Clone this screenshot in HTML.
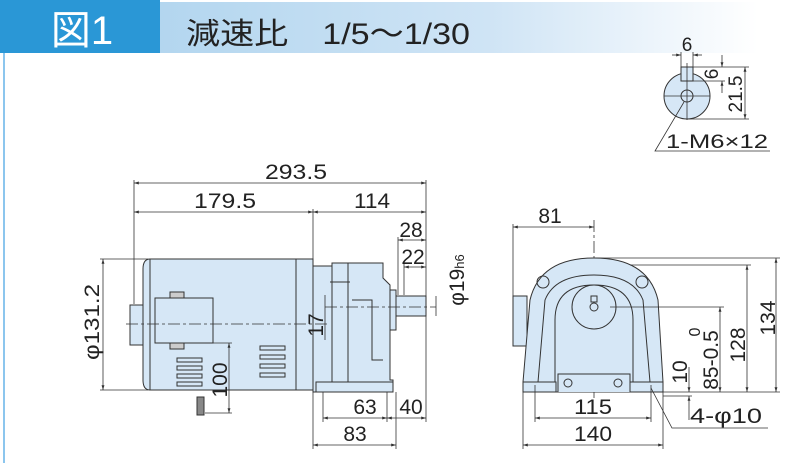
<!DOCTYPE html>
<html><head><meta charset="utf-8"><style>
body{margin:0;background:#fff;}
svg{display:block;}
text{font-family:"Liberation Sans","Noto Sans CJK JP",sans-serif;fill:#222;}
</style></head><body>
<svg width="800" height="472" viewBox="0 0 800 472" xmlns="http://www.w3.org/2000/svg">
<defs>
<linearGradient id="hg" x1="0" x2="1" y1="0" y2="0">
<stop offset="0" stop-color="#b3d6ef"/><stop offset="0.55" stop-color="#cfe4f5"/><stop offset="1" stop-color="#ffffff"/>
</linearGradient>
<marker id="a" viewBox="0 0 10 10" refX="10" refY="5" markerWidth="6" markerHeight="6" orient="auto-start-reverse"><path d="M0,2 L10,5 L0,8" fill="#333"/></marker>
</defs>
<rect x="158" y="2" width="600" height="51" fill="url(#hg)"/>
<rect x="0" y="0" width="160" height="53" fill="#2a97d6"/>
<text x="82" y="44" font-size="40" style="fill:#fff" text-anchor="middle">図1</text>
<text x="186" y="44" font-size="30" textLength="284" lengthAdjust="spacingAndGlyphs">減速比　1/5〜1/30</text>
<rect x="3" y="53" width="2" height="410" fill="#8cc6ee"/>

<g stroke="#333" stroke-width="1" fill="none">
<rect x="130" y="305" width="16" height="40" fill="#d6e7f6"/>
<path d="M150,259 L313,259 L313,390 L150,390 Q143,390 143,380 L143,269 Q143,259 150,259Z" fill="#d6e7f6"/>
<line x1="150" y1="259" x2="150" y2="390"/>
<rect x="296" y="259" width="17" height="131" fill="#d6e7f6"/>
<rect x="155" y="298" width="58" height="45" fill="#d6e7f6"/>
<rect x="170" y="292" width="14" height="6" fill="#ccc"/><rect x="170" y="343" width="14" height="6" fill="#ccc"/>
<g fill="#d6e7f6"><rect x="177" y="358" width="25" height="4"/><rect x="177" y="366" width="25" height="4"/><rect x="177" y="374" width="25" height="4"/><rect x="177" y="382" width="25" height="4"/>
<rect x="260" y="346" width="25" height="4"/><rect x="260" y="355" width="25" height="4"/><rect x="260" y="364" width="25" height="4"/><rect x="260" y="373" width="25" height="4"/></g>
<path d="M313,266 L332,266 L332,263 L383,263 L383,278 L390,285 L390,380 L393,380 L393,392 L313,392Z" fill="#d6e7f6"/>
<line x1="332" y1="266" x2="332" y2="392"/>
<line x1="348" y1="263" x2="348" y2="390"/>
<line x1="330" y1="282" x2="350" y2="282"/>
<path d="M352,300 L372,300 L372,360 L383,360"/>
<rect x="316" y="382" width="77" height="10" fill="#d6e7f6"/>
<rect x="390" y="290" width="6" height="40" fill="#d6e7f6"/>
<rect x="396" y="296" width="30" height="20" fill="#d6e7f6"/>
<g stroke-dasharray="12,3,3,3" stroke-width="0.8"><line x1="126" y1="324" x2="330" y2="324"/><line x1="325" y1="307" x2="436" y2="307"/><line x1="594" y1="220" x2="594" y2="398"/><line x1="540" y1="307" x2="650" y2="307"/><line x1="530" y1="325" x2="660" y2="325"/></g>
<rect x="197" y="397" width="7" height="18" fill="#888"/>

<g stroke-width="0.8">
<line x1="134" y1="183" x2="426" y2="183" marker-start="url(#a)" marker-end="url(#a)"/>
<line x1="134" y1="212" x2="313" y2="212" marker-start="url(#a)" marker-end="url(#a)"/>
<line x1="313" y1="212" x2="426" y2="212" marker-start="url(#a)" marker-end="url(#a)"/>
<line x1="134" y1="180" x2="134" y2="304"/><line x1="313" y1="209" x2="313" y2="259"/><line x1="426" y1="180" x2="426" y2="320"/>
<line x1="398" y1="240" x2="426" y2="240" marker-start="url(#a)" marker-end="url(#a)"/><line x1="398" y1="237" x2="398" y2="295"/>
<line x1="404" y1="267" x2="426" y2="267" marker-start="url(#a)" marker-end="url(#a)"/><line x1="404" y1="264" x2="404" y2="295"/>
<line x1="103" y1="259" x2="103" y2="390" marker-start="url(#a)" marker-end="url(#a)"/>
<line x1="100" y1="259" x2="148" y2="259"/><line x1="100" y1="390" x2="148" y2="390"/>
<line x1="229" y1="343" x2="229" y2="413" marker-start="url(#a)" marker-end="url(#a)"/><line x1="205" y1="413" x2="232" y2="413"/><line x1="205" y1="343" x2="232" y2="343"/>
<line x1="325" y1="295" x2="325" y2="340"/>
<line x1="323" y1="418" x2="387" y2="418" marker-start="url(#a)" marker-end="url(#a)"/>
<line x1="387" y1="418" x2="426" y2="418" marker-start="url(#a)" marker-end="url(#a)"/>
<line x1="313" y1="445" x2="396" y2="445" marker-start="url(#a)" marker-end="url(#a)"/>
<line x1="323" y1="392" x2="323" y2="422"/><line x1="387" y1="392" x2="387" y2="422"/><line x1="396" y1="392" x2="396" y2="449"/><line x1="313" y1="392" x2="313" y2="449"/><line x1="426" y1="320" x2="426" y2="422"/>
<line x1="436" y1="296" x2="436" y2="316"/>
</g>

<rect x="513" y="296" width="14" height="50" fill="#d6e7f6"/>
<path d="M523,392 L523,382 L530,300 Q540,258 594,258 Q648,258 658,300 L663,382 L663,392Z" fill="#d6e7f6"/>
<path d="M538,382 L545,300 Q555,275 594,275 Q633,275 643,300 L650,382"/>
<path d="M555,382 L555,320 Q555,285 594,285 Q633,285 633,320 L633,382"/>
<rect x="523" y="382" width="33" height="10" fill="#d6e7f6"/><rect x="630" y="382" width="33" height="10" fill="#d6e7f6"/>
<path d="M558,392 L558,374 L630,374 L630,392" fill="#d6e7f6"/>
<circle cx="594" cy="307" r="22" fill="#d6e7f6"/>
<circle cx="594" cy="307" r="4"/>
<rect x="591" y="296" width="6" height="6"/>
<circle cx="543" cy="282" r="6"/><circle cx="642" cy="282" r="6"/>
<circle cx="568" cy="383" r="4"/><circle cx="618" cy="383" r="4"/>
<g stroke-width="0.8">
<line x1="513" y1="227" x2="594" y2="227" marker-start="url(#a)" marker-end="url(#a)"/><line x1="513" y1="224" x2="513" y2="296"/>
<line x1="776" y1="258" x2="776" y2="392" marker-start="url(#a)" marker-end="url(#a)"/>
<line x1="747" y1="265" x2="747" y2="392" marker-start="url(#a)" marker-end="url(#a)"/>
<line x1="720" y1="307" x2="720" y2="392" marker-start="url(#a)" marker-end="url(#a)"/>
<line x1="689" y1="367" x2="689" y2="392" marker-end="url(#a)"/><line x1="689" y1="420" x2="689" y2="396" marker-end="url(#a)"/>
<line x1="594" y1="258" x2="780" y2="258"/><line x1="630" y1="265" x2="751" y2="265"/><line x1="610" y1="307" x2="724" y2="307"/>
<line x1="663" y1="392" x2="780" y2="392"/><line x1="663" y1="396" x2="692" y2="396"/>
<line x1="535" y1="418" x2="651" y2="418" marker-start="url(#a)" marker-end="url(#a)"/>
<line x1="523" y1="445" x2="663" y2="445" marker-start="url(#a)" marker-end="url(#a)"/>
<line x1="535" y1="385" x2="535" y2="422"/><line x1="651" y1="385" x2="651" y2="422"/><line x1="523" y1="392" x2="523" y2="449"/><line x1="663" y1="392" x2="663" y2="449"/>
<path d="M651,388 L672,428 L768,428"/>
</g>

<circle cx="687" cy="96" r="23" fill="#d6e7f6"/>
<circle cx="687" cy="96" r="6"/>
<rect x="681" y="67" width="12" height="14" fill="#d6e7f6"/>
<g stroke-width="0.8">
<line x1="664" y1="96" x2="710" y2="96"/><line x1="687" y1="63" x2="687" y2="120"/>
<line x1="672" y1="55" x2="681" y2="55" marker-end="url(#a)"/><line x1="702" y1="55" x2="693" y2="55" marker-end="url(#a)"/>
<line x1="681" y1="52" x2="681" y2="67"/><line x1="693" y1="52" x2="693" y2="67"/>
<line x1="722" y1="55" x2="722" y2="67" marker-end="url(#a)"/><line x1="722" y1="93" x2="722" y2="81" marker-end="url(#a)"/>
<line x1="693" y1="67" x2="749" y2="67"/><line x1="693" y1="81" x2="725" y2="81"/><line x1="687" y1="119" x2="749" y2="119"/>
<line x1="745" y1="67" x2="745" y2="119" marker-start="url(#a)" marker-end="url(#a)"/>
<path d="M684,102 L655,151 L770,151"/>
</g>
</g>

<g font-size="21">
<text x="296" y="179" text-anchor="middle" textLength="62" lengthAdjust="spacingAndGlyphs">293.5</text>
<text x="225" y="208" text-anchor="middle" textLength="62" lengthAdjust="spacingAndGlyphs">179.5</text>
<text x="372" y="208" text-anchor="middle" textLength="36" lengthAdjust="spacingAndGlyphs">114</text>
<text x="411" y="237" text-anchor="middle">28</text>
<text x="413" y="264" text-anchor="middle">22</text>
<text x="365" y="414" text-anchor="middle">63</text>
<text x="411" y="414" text-anchor="middle">40</text>
<text x="355" y="441" text-anchor="middle">83</text>
<text transform="translate(99,322) rotate(-90)" text-anchor="middle" textLength="76" lengthAdjust="spacingAndGlyphs">φ131.2</text>
<text transform="translate(227,380) rotate(-90)" text-anchor="middle">100</text>
<text transform="translate(323,325) rotate(-90)" text-anchor="middle">17</text>
<text transform="translate(464,280) rotate(-90)" text-anchor="middle">φ19<tspan font-size="13">h6</tspan></text>
<text x="550" y="223" text-anchor="middle">81</text>
<text x="593" y="414" text-anchor="middle" textLength="38" lengthAdjust="spacingAndGlyphs">115</text>
<text x="593" y="441" text-anchor="middle" textLength="38" lengthAdjust="spacingAndGlyphs">140</text>
<text x="690" y="423" textLength="72" lengthAdjust="spacingAndGlyphs">4-φ10</text>
<text transform="translate(775,318) rotate(-90)" text-anchor="middle">134</text>
<text transform="translate(745,345) rotate(-90)" text-anchor="middle">128</text>
<text transform="translate(718,360) rotate(-90)" text-anchor="middle">85-0.5</text>
<text transform="translate(700,332) rotate(-90)" text-anchor="middle" font-size="16">0</text>
<text transform="translate(687,372) rotate(-90)" text-anchor="middle">10</text>
<text x="687" y="51" text-anchor="middle" font-size="19">6</text>
<text transform="translate(718,74) rotate(-90)" text-anchor="middle" font-size="19">6</text>
<text transform="translate(742,94) rotate(-90)" text-anchor="middle" font-size="19">21.5</text>
<text x="666" y="148" font-size="19" textLength="102" lengthAdjust="spacingAndGlyphs">1-M6×12</text>
</g>
</svg>
</body></html>
